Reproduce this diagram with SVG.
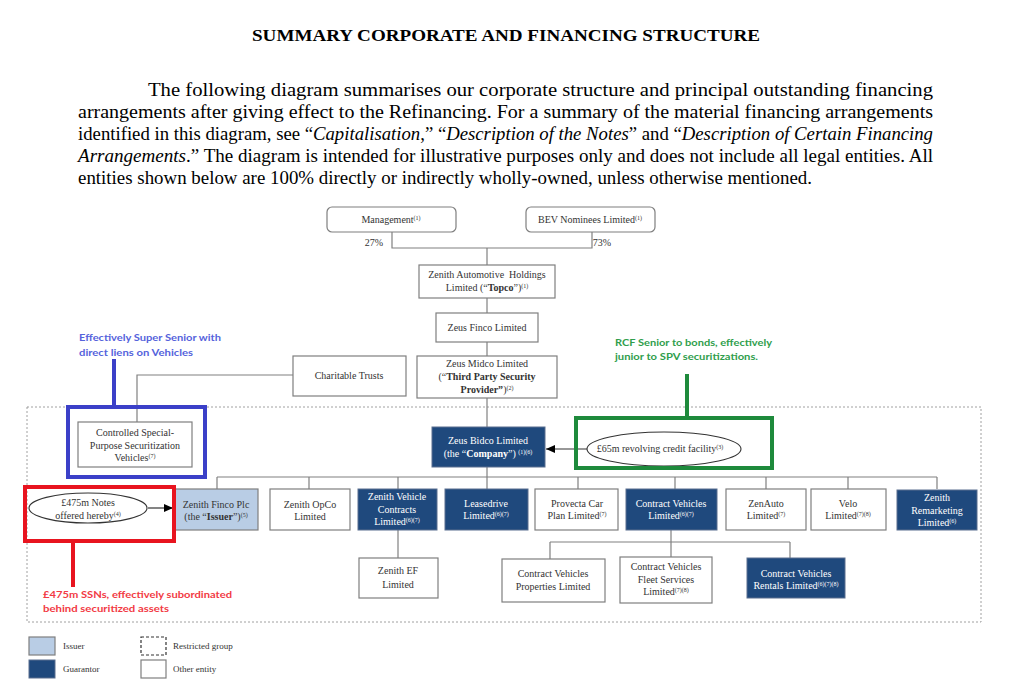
<svg xmlns="http://www.w3.org/2000/svg" width="1024" height="688" viewBox="0 0 1024 688">
<style>
.bg{fill:#fff}
.t{font-family:"Liberation Serif","Times New Roman",serif;fill:#000}
.n{font-family:"Liberation Serif","Times New Roman",serif;font-size:10px;fill:#333;text-anchor:middle}
.nw{font-family:"Liberation Serif","Times New Roman",serif;font-size:10px;fill:#fff;text-anchor:middle}
.lg{font-family:"Liberation Serif","Times New Roman",serif;font-size:9px;fill:#333;text-anchor:start}
.sup{font-size:6px}
.b{font-weight:bold}
.box{fill:#fff;stroke:#7f7f7f;stroke-width:1.2}
.navy{fill:#1f497d;stroke:#5a6f8f;stroke-width:1}
.issuer{fill:#b9cde5;stroke:#7f7f7f;stroke-width:1.2}
.line{fill:none;stroke:#808080;stroke-width:1.2}
.arr{fill:none;stroke:#333;stroke-width:1.2}
.ann{font-family:"Lato","Open Sans",sans-serif;font-size:10px;font-weight:bold}
</style>
<defs>
<marker id="ah" markerWidth="10" markerHeight="10" refX="9" refY="5" orient="auto" markerUnits="userSpaceOnUse">
<path d="M0,1 L9,5 L0,9 Z" fill="#000"/>
</marker>
</defs>
<rect class="bg" x="0" y="0" width="1024" height="688"/>

<g id="heading">
<text class="t b" x="506" y="41" font-size="17" text-anchor="middle" textLength="508" lengthAdjust="spacingAndGlyphs">SUMMARY CORPORATE AND FINANCING STRUCTURE</text>
<text class="t" x="148" y="96" font-size="19" textLength="785" lengthAdjust="spacingAndGlyphs">The following diagram summarises our corporate structure and principal outstanding financing</text>
<text class="t" x="78" y="118" font-size="19" textLength="855" lengthAdjust="spacingAndGlyphs">arrangements after giving effect to the Refinancing. For a summary of the material financing arrangements</text>
<text class="t" x="78" y="140" font-size="19" textLength="855" lengthAdjust="spacingAndGlyphs">identified in this diagram, see “<tspan font-style="italic">Capitalisation</tspan>,” “<tspan font-style="italic">Description of the Notes</tspan>” and “<tspan font-style="italic">Description of Certain Financing</tspan></text>
<text class="t" x="78" y="162" font-size="19" textLength="855" lengthAdjust="spacingAndGlyphs"><tspan font-style="italic">Arrangements</tspan>.” The diagram is intended for illustrative purposes only and does not include all legal entities. All</text>
<text class="t" x="78" y="184" font-size="19" textLength="734" lengthAdjust="spacingAndGlyphs">entities shown below are 100% directly or indirectly wholly-owned, unless otherwise mentioned.</text>
</g>

<g id="restricted-group">
<rect x="27" y="407" width="954" height="215" fill="none" stroke="#a0a0a0" stroke-width="1" stroke-dasharray="2,2"/>
</g>

<g id="connectors">
<path class="line" d="M392,232 V248 H592 V232"/>
<path class="line" d="M487,248 V265"/>
<path class="line" d="M487,298 V313"/>
<path class="line" d="M487,342 V356"/>
<path class="line" d="M487,398 V427"/>
<path class="line" d="M293,375 H137 V422"/>
<path class="line" d="M487,467 V489"/>
<path class="line" d="M217,477 H937"/>
<path class="line" d="M217,477 V489 M309,477 V489 M398,477 V489 M578,477 V489 M675,477 V489 M766,477 V489 M848,477 V489 M937,477 V489"/>
<path class="line" d="M398,530 V558"/>
<path class="line" d="M671,530 V557"/>
<path class="line" d="M550,542 H790 M550,542 V559 M790,542 V558"/>
<path class="arr" d="M587,449 H546" marker-end="url(#ah)"/>
<path class="arr" d="M148,508 H173" marker-end="url(#ah)"/>
</g>

<g id="management">
<rect class="box" x="327" y="207" width="129" height="25" rx="5"/>
<text class="n" x="391" y="223">Management<tspan class="sup" dy="-3">(1)</tspan></text>
</g>
<g id="bev">
<rect class="box" x="526" y="207" width="129" height="25" rx="5"/>
<text class="n" x="590" y="223">BEV Nominees Limited<tspan class="sup" dy="-3">(1)</tspan></text>
</g>
<g id="pct">
<text class="n" x="374" y="246" font-size="9">27%</text>
<text class="n" x="602" y="246" font-size="9">73%</text>
</g>
<g id="topco">
<rect class="box" x="419" y="265" width="136" height="33"/>
<text class="n" x="487" y="278" xml:space="preserve">Zenith Automotive  Holdings</text>
<text class="n" x="487" y="291">Limited (“<tspan class="b">Topco</tspan>”)<tspan class="sup" dy="-3">(1)</tspan></text>
</g>
<g id="zeus-finco">
<rect class="box" x="436" y="313" width="102" height="29"/>
<text class="n" x="487" y="331">Zeus Finco Limited</text>
</g>
<g id="zeus-midco">
<rect class="box" x="417" y="356" width="140" height="42"/>
<text class="n" x="487" y="367">Zeus Midco Limited</text>
<text class="n" x="487" y="380">(“<tspan class="b">Third Party Security</tspan></text>
<text class="n" x="487" y="393"><tspan class="b">Provider”</tspan>)<tspan class="sup" dy="-3">(2)</tspan></text>
</g>
<g id="charitable-trusts">
<rect class="box" x="293" y="356" width="113" height="40"/>
<text class="n" x="349" y="379">Charitable Trusts</text>
</g>
<g id="spv">
<rect class="box" x="78" y="422" width="114" height="45"/>
<text class="n" x="135" y="436">Controlled Special-</text>
<text class="n" x="135" y="449">Purpose Securitization</text>
<text class="n" x="135" y="461">Vehicles<tspan class="sup" dy="-3">(7)</tspan></text>
</g>
<g id="zeus-bidco">
<rect class="navy" x="432" y="427" width="113" height="40"/>
<text class="nw" x="488" y="444">Zeus Bidco Limited</text>
<text class="nw" x="488" y="457">(the “<tspan class="b">Company</tspan>”) <tspan class="sup" dy="-3">(1)(6)</tspan></text>
</g>
<g id="rcf">
<ellipse cx="664" cy="449" rx="77" ry="17" fill="#fff" stroke="#333" stroke-width="1.1"/>
<text class="n" x="660" y="452">£65m revolving credit facility<tspan class="sup" dy="-3">(3)</tspan></text>
</g>
<g id="notes">
<ellipse cx="88" cy="508" rx="59" ry="15" fill="#fff" stroke="#333" stroke-width="1.1"/>
<text class="n" x="88" y="506">£475m Notes</text>
<text class="n" x="88" y="519">offered hereby<tspan class="sup" dy="-3">(4)</tspan></text>
</g>
<g id="zenith-finco-plc">
<rect class="issuer" x="174" y="489" width="84" height="41"/>
<text class="n" x="216" y="508">Zenith Finco Plc</text>
<text class="n" x="216" y="520">(the “<tspan class="b">Issuer</tspan>”)<tspan class="sup" dy="-3">(5)</tspan></text>
</g>
<g id="zenith-opco">
<rect class="box" x="270" y="489" width="80" height="41"/>
<text class="n" x="310" y="508">Zenith OpCo</text>
<text class="n" x="310" y="520">Limited</text>
</g>
<g id="zenith-vehicle-contracts">
<rect class="navy" x="358" y="489" width="79" height="41"/>
<text class="nw" x="397" y="500">Zenith Vehicle</text>
<text class="nw" x="397" y="513">Contracts</text>
<text class="nw" x="397" y="525">Limited<tspan class="sup" dy="-3">(6)(7)</tspan></text>
</g>
<g id="leasedrive">
<rect class="navy" x="445" y="489" width="83" height="41"/>
<text class="nw" x="486" y="507">Leasedrive</text>
<text class="nw" x="486" y="519">Limited<tspan class="sup" dy="-3">(6)(7)</tspan></text>
</g>
<g id="provecta">
<rect class="box" x="535" y="489" width="83" height="41"/>
<text class="n" x="577" y="507">Provecta Car</text>
<text class="n" x="577" y="519">Plan Limited<tspan class="sup" dy="-3">(7)</tspan></text>
</g>
<g id="contract-vehicles">
<rect class="navy" x="626" y="489" width="91" height="41"/>
<text class="nw" x="671" y="507">Contract Vehicles</text>
<text class="nw" x="671" y="519">Limited<tspan class="sup" dy="-3">(6)(7)</tspan></text>
</g>
<g id="zenauto">
<rect class="box" x="726" y="489" width="80" height="41"/>
<text class="n" x="766" y="507">ZenAuto</text>
<text class="n" x="766" y="519">Limited<tspan class="sup" dy="-3">(7)</tspan></text>
</g>
<g id="velo">
<rect class="box" x="811" y="489" width="75" height="41"/>
<text class="n" x="848" y="507">Velo</text>
<text class="n" x="848" y="519">Limited<tspan class="sup" dy="-3">(7)(8)</tspan></text>
</g>
<g id="zenith-remarketing">
<rect class="navy" x="897" y="490" width="80" height="40"/>
<text class="nw" x="937" y="501">Zenith</text>
<text class="nw" x="937" y="514">Remarketing</text>
<text class="nw" x="937" y="526">Limited<tspan class="sup" dy="-3">(6)</tspan></text>
</g>
<g id="zenith-ef">
<rect class="box" x="359" y="558" width="79" height="40"/>
<text class="n" x="398" y="574">Zenith EF</text>
<text class="n" x="398" y="588">Limited</text>
</g>
<g id="cv-properties">
<rect class="box" x="502" y="559" width="103" height="43"/>
<text class="n" x="553" y="577">Contract Vehicles</text>
<text class="n" x="553" y="590">Properties Limited</text>
</g>
<g id="cv-fleet">
<rect class="box" x="620" y="557" width="92" height="46"/>
<text class="n" x="666" y="570">Contract Vehicles</text>
<text class="n" x="666" y="583">Fleet Services</text>
<text class="n" x="666" y="595">Limited<tspan class="sup" dy="-3">(7)(8)</tspan></text>
</g>
<g id="cv-rentals">
<rect class="navy" x="747" y="558" width="98" height="40"/>
<text class="nw" x="796" y="577">Contract Vehicles</text>
<text class="nw" x="796" y="589">Rentals Limited<tspan class="sup" dy="-3">(6)(7)(8)</tspan></text>
</g>

<g id="annotation-blue">
<rect x="68" y="407" width="137" height="70" fill="none" stroke="#3b40c8" stroke-width="4"/>
<path d="M114,359 V407" stroke="#3b40c8" stroke-width="4" fill="none"/>
<text class="ann" x="79" y="341" fill="#5563dc" textLength="142" lengthAdjust="spacingAndGlyphs">Effectively Super Senior with</text>
<text class="ann" x="79" y="356" fill="#5563dc" textLength="114" lengthAdjust="spacingAndGlyphs">direct liens on Vehicles</text>
</g>
<g id="annotation-green">
<rect x="576" y="418" width="196" height="50" fill="none" stroke="#1e8a3c" stroke-width="4"/>
<path d="M687,374 V418" stroke="#1e8a3c" stroke-width="4" fill="none"/>
<text class="ann" x="615" y="346" fill="#2f9e4c" textLength="157" lengthAdjust="spacingAndGlyphs">RCF Senior to bonds, effectively</text>
<text class="ann" x="615" y="360" fill="#2f9e4c" textLength="143" lengthAdjust="spacingAndGlyphs">junior to SPV securitizations.</text>
</g>
<g id="annotation-red">
<rect x="25" y="487" width="149" height="54" fill="none" stroke="#e8141f" stroke-width="4"/>
<path d="M73,541 V587" stroke="#e8141f" stroke-width="4" fill="none"/>
<text class="ann" x="43" y="598" fill="#f23a44" textLength="189" lengthAdjust="spacingAndGlyphs">£475m SSNs, effectively subordinated</text>
<text class="ann" x="43" y="612" fill="#f23a44" textLength="126" lengthAdjust="spacingAndGlyphs">behind securitized assets</text>
</g>

<g id="legend">
<rect class="issuer" x="29" y="637" width="26" height="18"/>
<rect class="navy" x="29" y="660" width="26" height="18"/>
<rect x="141" y="637" width="25" height="18" fill="#fff" stroke="#333" stroke-width="1.2" stroke-dasharray="3,2"/>
<rect class="box" x="141" y="660" width="25" height="18"/>
<text class="lg" x="63" y="649">Issuer</text>
<text class="lg" x="63" y="672">Guarantor</text>
<text class="lg" x="173" y="649">Restricted group</text>
<text class="lg" x="173" y="672">Other entity</text>
</g>
</svg>
